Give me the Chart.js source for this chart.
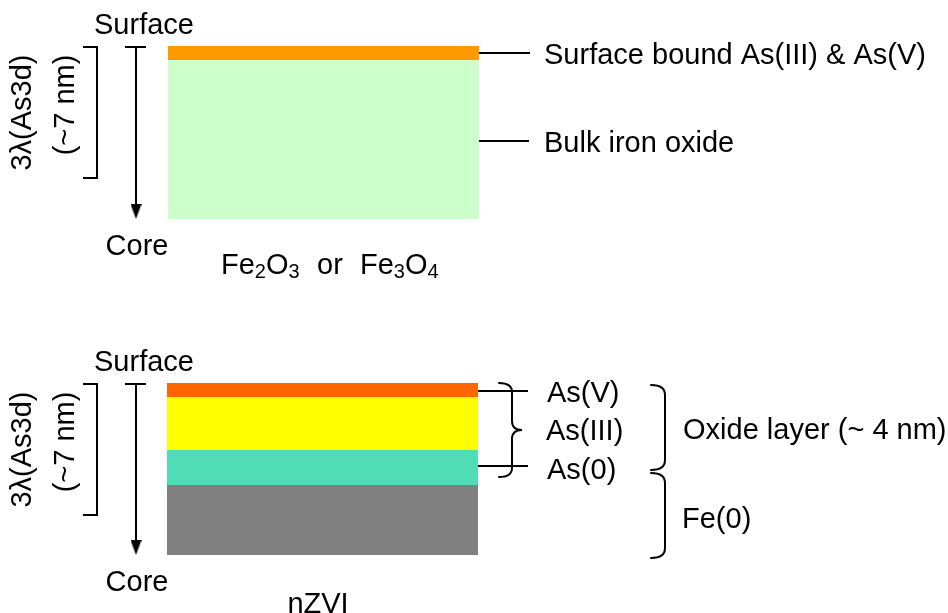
<!DOCTYPE html>
<html>
<head>
<meta charset="utf-8">
<script src="https://cdn.jsdelivr.net/npm/chart.js"></script>
<style>
html,body{margin:0;padding:0;background:#ffffff;}
#wrap{width:948px;height:613px;position:relative;}
</style>
</head>
<body>
<div id="wrap"><canvas id="c"></canvas></div>
<script>
// ---------- data (depths in diagram units, surface -> core) ----------
const oxideLayers = ['Surface bound As(III) & As(V)', 'Bulk iron oxide'];
const oxideBounds = [46, 60, 219];
const oxideSpan   = [168, 479];

const nzviLayers  = ['As(V)', 'As(III)', 'As(0)', 'Fe(0)'];
const nzviBounds  = [383, 397, 450, 485, 555];
const nzviSpan    = [167, 478];

const probeDepth  = 131;            // 3λ(As3d) ≈ 7 nm sampling depth
const depthLabels = ['3λ(As3d)', '(~7 nm)'];
const axisLabels  = ['Surface', 'Core'];
const oxideName   = [['Fe',0],['2',1],['O',0],['3',1]];
const oxideName2  = [['Fe',0],['3',1],['O',0],['4',1]];
const nzviName    = 'nZVI';
const groupLabels = ['Oxide layer (~ 4 nm)', 'Fe(0)'];

// ---------- styles ----------
const oxideColors = ['#FF9900', '#CCFFCC'];
const nzviColors  = ['#FF6600', '#FFFF00', '#50DCB4', '#808080'];
const FONT = '29px "Liberation Sans", Arial, Helvetica, sans-serif';
const SUBFONT = '20px "Liberation Sans", Arial, Helvetica, sans-serif';

// arrow head image used as point style
const head = document.createElement('canvas');
head.width = 11; head.height = 15;
(function(){const g=head.getContext('2d');g.fillStyle='#000';g.beginPath();g.moveTo(0,0);g.lineTo(11,0);g.lineTo(5.5,15);g.closePath();g.fill();})();

function layerSets(bounds, span, colors){
  return bounds.map((b,i)=>({
    data:[{x:span[0],y:b},{x:span[1],y:b}],
    borderColor:'rgba(0,0,0,0)', borderWidth:0, pointRadius:0,
    fill: i===0 ? false : '-1',
    backgroundColor: i===0 ? 'rgba(0,0,0,0)' : colors[i-1]
  }));
}
function lineSet(pts, extra){
  return Object.assign({data:pts, borderColor:'#000', borderWidth:2, pointRadius:0, fill:false, tension:0}, extra||{});
}
function mid(b,i){return Math.round((b[i]+b[i+1])/2);}

function panelGuides(bounds){
  const top = bounds[0]+1, bot = bounds[bounds.length-1];
  return [
    // depth bracket
    lineSet([{x:83,y:top},{x:97,y:top},{x:97,y:top+probeDepth},{x:83,y:top+probeDepth}]),
    // tick at surface
    lineSet([{x:125,y:top},{x:146,y:top}]),
    // arrow surface -> core
    lineSet([{x:136,y:top},{x:136,y:bot-7.5}], {pointRadius:[0,5], pointStyle:head})
  ];
}

const datasets = [
  ...layerSets(oxideBounds, oxideSpan, oxideColors),
  ...layerSets(nzviBounds, nzviSpan, nzviColors),
  ...panelGuides(oxideBounds),
  ...panelGuides(nzviBounds),
  // leader lines
  lineSet([{x:oxideSpan[1]-2,y:mid(oxideBounds,0)},{x:oxideSpan[1]+51,y:mid(oxideBounds,0)}]),
  lineSet([{x:oxideSpan[1]-3,y:mid(oxideBounds,1)+1},{x:oxideSpan[1]+50,y:mid(oxideBounds,1)+1}]),
  lineSet([{x:nzviSpan[1]-3,y:mid(nzviBounds,0)+1},{x:nzviSpan[1]+50,y:mid(nzviBounds,0)+1}]),
  lineSet([{x:nzviSpan[1]-3,y:mid(nzviBounds,2)-2},{x:nzviSpan[1]+50,y:mid(nzviBounds,2)-2}])
];

const annot = {
  id:'annot',
  afterDatasetsDraw(chart){
    const ctx = chart.ctx, xs = chart.scales.x, ys = chart.scales.y;
    const X = v=>xs.getPixelForValue(v), Y = v=>ys.getPixelForValue(v);
    ctx.save();
    ctx.fillStyle = '#000';
    ctx.font = FONT;
    ctx.textBaseline = 'alphabetic';

    function text(s, x, y, align){ctx.textAlign = align||'left'; ctx.fillText(s, X(x), Y(y));}
    function vtext(s, x, y){ctx.save(); ctx.translate(X(x), Y(y)); ctx.rotate(-Math.PI/2); ctx.textAlign='center'; ctx.fillText(s,0,0); ctx.restore();}
    function formula(parts, x, y){
      let px = X(x);
      ctx.textAlign='left';
      parts.forEach(([s,sub])=>{
        ctx.font = sub ? SUBFONT : FONT;
        ctx.fillText(s, px, Y(y) + (sub?4:0));
        px += ctx.measureText(s).width;
      });
      ctx.font = FONT;
    }

    [oxideBounds, nzviBounds].forEach(b=>{
      const top = b[0]+1, bot = b[b.length-1];
      text(axisLabels[0], 144, top-13, 'center');
      text(axisLabels[1], 137, bot+36, 'center');
      vtext(depthLabels[0], 30.5, top+65.5);
      vtext(depthLabels[1], 74, top+58);
    });

    // top panel labels
    text(oxideLayers[0], 544, 64);
    text(oxideLayers[1], 544, 152);
    formula(oxideName, 221, oxideBounds[2]+55);
    text('or', 317, oxideBounds[2]+55);
    formula(oxideName2, 360, oxideBounds[2]+55);

    // bottom panel labels
    text(nzviLayers[0], 547, 402);
    text(nzviLayers[1], 546, 440);
    text(nzviLayers[2], 547, 479);
    text(groupLabels[0], 683, 439);
    text(groupLabels[1], 682, 528);
    text(nzviName, 318, nzviBounds[4]+58, 'center');

    // braces
    ctx.strokeStyle = '#000';
    ctx.lineWidth = 2;
    ctx.lineCap = 'round';
    function brace(x0, xv, xt, y0, ym, y1, r){
      ctx.beginPath();
      ctx.moveTo(X(x0), Y(y0));
      ctx.quadraticCurveTo(X(xv), Y(y0), X(xv), Y(y0+r));
      ctx.lineTo(X(xv), Y(ym-r));
      ctx.quadraticCurveTo(X(xv), Y(ym), X(xt), Y(ym));
      ctx.quadraticCurveTo(X(xv), Y(ym), X(xv), Y(ym+r));
      ctx.lineTo(X(xv), Y(y1-r));
      ctx.quadraticCurveTo(X(xv), Y(y1), X(x0), Y(y1));
      ctx.stroke();
    }
    function bracket(x0, xv, y0, y1, r){
      ctx.beginPath();
      ctx.moveTo(X(x0), Y(y0));
      ctx.quadraticCurveTo(X(xv), Y(y0), X(xv), Y(y0+r));
      ctx.lineTo(X(xv), Y(y1-r));
      ctx.quadraticCurveTo(X(xv), Y(y1), X(x0), Y(y1));
      ctx.stroke();
    }
    brace(499, 512, 522, 383, 430, 477, 9);
    bracket(651, 665, 385, 470, 10);
    bracket(651, 665, 473, 558, 10);
    ctx.restore();
  }
};

new Chart(document.getElementById('c'), {
  type:'line',
  data:{datasets},
  options:{
    responsive:true, maintainAspectRatio:false, animation:false, events:[],
    layout:{padding:0, autoPadding:false},
    plugins:{legend:{display:false}, tooltip:{enabled:false}},
    elements:{point:{radius:0}, line:{tension:0}},
    scales:{
      x:{type:'linear', min:0, max:948, display:false},
      y:{type:'linear', min:0, max:613, reverse:true, display:false}
    }
  },
  plugins:[annot]
});
</script>
</body>
</html>
